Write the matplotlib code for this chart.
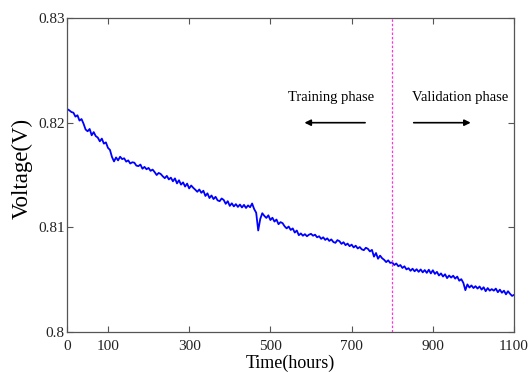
import numpy as np
import matplotlib
matplotlib.use("Agg")
import matplotlib.pyplot as plt

# voltage, one value every 5 hours (0 .. 1100 h)
hours = np.arange(0, 1101, 5)
voltage = [
    0.82130, 0.82118, 0.82102, 0.82096, 0.82058, 0.82071, 0.82020, 0.82035, 0.81990, 0.81935,
    0.81918, 0.81940, 0.81880, 0.81910, 0.81872, 0.81858, 0.81822, 0.81848, 0.81800, 0.81812,
    0.81760, 0.81740, 0.81672, 0.81630, 0.81668, 0.81640, 0.81675, 0.81652, 0.81660, 0.81628,
    0.81640, 0.81610, 0.81622, 0.81618, 0.81590, 0.81585, 0.81600, 0.81560, 0.81578, 0.81555,
    0.81568, 0.81540, 0.81552, 0.81528, 0.81500, 0.81520, 0.81510, 0.81488, 0.81470, 0.81492,
    0.81458, 0.81475, 0.81440, 0.81468, 0.81420, 0.81450, 0.81408, 0.81430, 0.81390, 0.81418,
    0.81372, 0.81400, 0.81378, 0.81360, 0.81340, 0.81362, 0.81330, 0.81350, 0.81300, 0.81325,
    0.81280, 0.81305, 0.81270, 0.81292, 0.81258, 0.81250, 0.81276, 0.81262, 0.81225, 0.81250,
    0.81205, 0.81230, 0.81200, 0.81222, 0.81195, 0.81218, 0.81190, 0.81215, 0.81185, 0.81210,
    0.81192, 0.81228, 0.81175, 0.81140, 0.80970, 0.81080, 0.81135, 0.81110, 0.81090, 0.81115,
    0.81070, 0.81092, 0.81055, 0.81075, 0.81030, 0.81050, 0.81040, 0.81010, 0.80990, 0.81008,
    0.80975, 0.80990, 0.80950, 0.80970, 0.80925, 0.80942, 0.80920, 0.80935, 0.80915, 0.80930,
    0.80938, 0.80920, 0.80930, 0.80905, 0.80915, 0.80890, 0.80905, 0.80880, 0.80895, 0.80870,
    0.80885, 0.80860, 0.80852, 0.80878, 0.80868, 0.80842, 0.80858, 0.80830, 0.80845, 0.80820,
    0.80835, 0.80808, 0.80825, 0.80798, 0.80812, 0.80790, 0.80782, 0.80805, 0.80795, 0.80770,
    0.80785, 0.80720, 0.80755, 0.80700, 0.80730, 0.80705, 0.80690, 0.80668, 0.80685, 0.80660,
    0.80665, 0.80640, 0.80655, 0.80628, 0.80640, 0.80612, 0.80628, 0.80598, 0.80610, 0.80585,
    0.80605, 0.80580, 0.80600, 0.80575, 0.80598, 0.80570, 0.80592, 0.80565, 0.80595, 0.80560,
    0.80590, 0.80555, 0.80575, 0.80540, 0.80560, 0.80530, 0.80552, 0.80515, 0.80540, 0.80520,
    0.80538, 0.80510, 0.80530, 0.80490, 0.80505, 0.80470, 0.80400, 0.80455, 0.80425, 0.80445,
    0.80420, 0.80438, 0.80415, 0.80435, 0.80405, 0.80428, 0.80390, 0.80420, 0.80395, 0.80410,
    0.80395, 0.80415, 0.80380, 0.80405, 0.80375, 0.80395, 0.80360, 0.80390, 0.80365, 0.80345,
    0.80355,
]
split_hour = 800
x_ticks = [0, 100, 300, 500, 700, 900, 1100]
y_ticks = [0.80, 0.81, 0.82, 0.83]
y_tick_labels = ["0.8", "0.81", "0.82", "0.83"]

plt.rcParams["font.family"] = ["Liberation Serif", "DejaVu Serif"]

fig = plt.figure(figsize=(5.3, 3.72), dpi=100)
ax = fig.add_axes([0.127, 0.1075, 0.843, 0.844])

ax.plot(hours, voltage, color="#0000ff", linewidth=1.3)
ax.axvline(split_hour, color="#ff33dd", linestyle=(0, (2, 1.5)), linewidth=0.9)

ax.text(544, 0.82245, "Training phase", fontsize=10.5, va="center", ha="left")
ax.text(849, 0.82245, "Validation phase", fontsize=10.5, va="center", ha="left")
ax.annotate("", xy=(577, 0.8200), xytext=(740, 0.8200),
            arrowprops=dict(arrowstyle="-|>", color="black", lw=1.2, mutation_scale=9))
ax.annotate("", xy=(1000, 0.8200), xytext=(846, 0.8200),
            arrowprops=dict(arrowstyle="-|>", color="black", lw=1.2, mutation_scale=9))

ax.set_xlim(0, 1100)
ax.set_ylim(0.80, 0.83)
ax.set_xticks(x_ticks)
ax.set_yticks(y_ticks, y_tick_labels)
ax.tick_params(direction="in", top=True, right=True, length=4, width=0.8,
               labelsize=11, colors="#555555", labelcolor="#222222")
ax.tick_params(axis="x", pad=5.5)
ax.tick_params(axis="y", pad=2)
for spine in ax.spines.values():
    spine.set_color("#555555")
    spine.set_linewidth(0.9)

ax.set_xlabel("Time(hours)", fontsize=13, labelpad=1.5)
ax.set_ylabel("Voltage(V)", fontsize=16.5)
ax.yaxis.set_label_coords(-0.078, 0.52)

fig.savefig("out.png", dpi=100)
